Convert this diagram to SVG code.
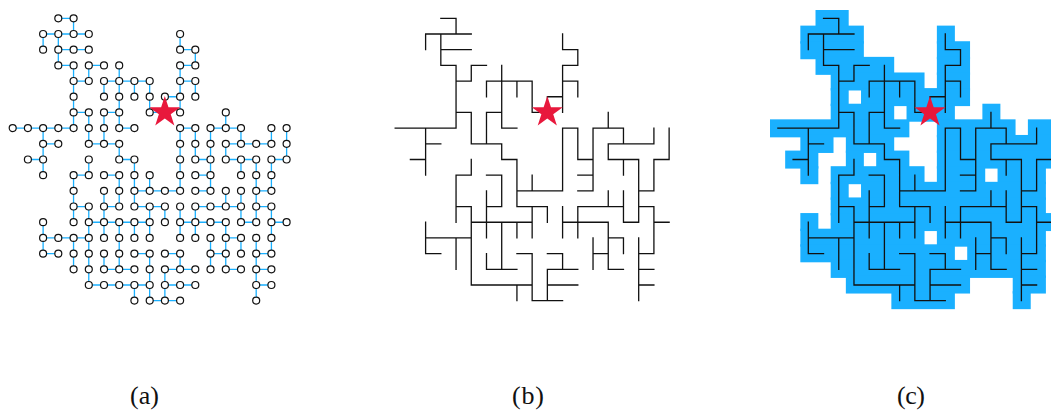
<svg xmlns="http://www.w3.org/2000/svg" width="1051" height="410" viewBox="0 0 1051 410">
<style>
circle{r:3.5px;fill:#fff;stroke:#111;stroke-width:1.2}
.t{fill:none;stroke-width:1.3;stroke-linecap:square;vector-effect:non-scaling-stroke}
.s{fill:#e8183c}
#cells rect{height:1.1524px;fill:#1ab0ff}
text{font-family:"Liberation Serif",serif;font-size:26px;fill:#111;text-anchor:middle}
</style>
<defs>
<path id="tree" class="t" transform="scale(15.22 15.685)" d="M3 0H4M2 1H5M3 2H5M11 2H12M3 3H4M5 3H6M11 3H12M4 4H5M6 4H9M11 4H12M10 5H11M4 6H5M6 6H7M9 6H10M0 7H4M7 7H8M11 7H12M13 7H15M2 8H3M5 8H7M14 8H17M1 9H2M7 9H8M12 9H13M14 9H16M17 9H18M4 10H5M6 10H7M12 10H13M8 11H11M12 11H13M16 11H17M4 12H5M6 12H7M8 12H10M12 12H15M16 12H17M5 13H9M11 13H14M15 13H16M17 13H18M2 14H5M14 14H15M2 15H3M8 15H9M10 15H11M13 15H14M16 15H17M6 16H8M10 16H12M14 16H15M16 16H17M5 17H9M10 17H12M16 17H17M9 18H11M2 1V2M2 7V10M2 13V15M3 1V3M4 0V1M4 3V7M4 10V13M4 14V16M5 3V4M5 6V8M5 9V10M5 12V17M6 4V5M6 6V8M6 11V14M6 15V16M7 3V7M7 8V9M7 10V12M7 13V16M8 4V5M8 9V12M8 13V14M8 17V18M9 4V6M9 10V11M9 12V14M9 15V18M10 5V6M10 12V13M10 16V18M11 1V2M11 3V6M11 7V11M11 12V14M11 15V16M12 2V3M12 4V5M12 7V9M12 12V14M13 7V11M13 14V16M14 6V7M14 8V9M14 11V12M14 13V16M15 7V8M15 9V10M15 11V13M15 14V15M16 9V13M16 14V18M17 7V8M17 9V11M17 12V15M18 7V9"/>
<polygon id="star" class="s" points="0,-16.3 3.66,-5.04 15.5,-5.04 5.93,1.92 9.58,13.19 0,6.23 -9.58,13.19 -5.93,1.92 -15.5,-5.04 -3.66,-5.04"/>
</defs>
<g id="cells" transform="translate(770 10) scale(15.17 15.62)">
<rect x="3" y="0" width="2.187"/>
<rect x="2" y="1" width="4.187"/><rect x="11" y="1" width="1.187"/>
<rect x="2" y="2" width="4.187"/><rect x="11" y="2" width="2.187"/>
<rect x="3" y="3" width="5.187"/><rect x="11" y="3" width="2.187"/>
<rect x="4" y="4" width="6.187"/><rect x="11" y="4" width="2.187"/>
<rect x="4" y="5" width="1.187"/><rect x="6" y="5" width="7.187"/>
<rect x="4" y="6" width="4.187"/><rect x="9" y="6" width="3.187"/><rect x="14" y="6" width="1.187"/>
<rect x="0" y="7" width="9.187"/><rect x="11" y="7" width="5.187"/><rect x="17" y="7" width="2.187"/>
<rect x="2" y="8" width="2.187"/><rect x="5" y="8" width="3.187"/><rect x="11" y="8" width="8.187"/>
<rect x="1" y="9" width="2.187"/><rect x="5" y="9" width="1.187"/><rect x="7" y="9" width="2.187"/><rect x="11" y="9" width="8.187"/>
<rect x="2" y="10" width="1.187"/><rect x="4" y="10" width="6.187"/><rect x="11" y="10" width="3.187"/><rect x="15" y="10" width="3.187"/>
<rect x="4" y="11" width="1.187"/><rect x="6" y="11" width="12.187"/>
<rect x="4" y="12" width="14.187"/>
<rect x="2" y="13" width="1.187"/><rect x="4" y="13" width="15.187"/>
<rect x="2" y="14" width="8.187"/><rect x="11" y="14" width="7.187"/>
<rect x="2" y="15" width="10.187"/><rect x="13" y="15" width="5.187"/>
<rect x="4" y="16" width="14.187"/>
<rect x="5" y="17" width="8.187"/><rect x="16" y="17" width="2.187"/>
<rect x="8" y="18" width="4.187"/><rect x="16" y="18" width="1.187"/>
</g>
<g id="connectors">
<use href="#tree" transform="translate(12.67 18.33)" stroke="#1ab0ff"/>
<use href="#tree" transform="translate(395.17 18.33)" stroke="#111"/>
<use href="#tree" transform="translate(777.87 18.33)" stroke="#111"/>
</g>
<g id="nodes">
<g id="n3-0"><circle cx="58.3" cy="18.3"/></g><g id="n4-0"><circle cx="73.6" cy="18.3"/></g>
<g id="n2-1"><circle cx="43.1" cy="34"/></g><g id="n3-1"><circle cx="58.3" cy="34"/></g><g id="n4-1"><circle cx="73.6" cy="34"/></g><g id="n5-1"><circle cx="88.8" cy="34"/></g><g id="n11-1"><circle cx="180.1" cy="34"/></g>
<g id="n2-2"><circle cx="43.1" cy="49.7"/></g><g id="n3-2"><circle cx="58.3" cy="49.7"/></g><g id="n4-2"><circle cx="73.6" cy="49.7"/></g><g id="n5-2"><circle cx="88.8" cy="49.7"/></g><g id="n11-2"><circle cx="180.1" cy="49.7"/></g><g id="n12-2"><circle cx="195.3" cy="49.7"/></g>
<g id="n3-3"><circle cx="58.3" cy="65.4"/></g><g id="n4-3"><circle cx="73.6" cy="65.4"/></g><g id="n5-3"><circle cx="88.8" cy="65.4"/></g><g id="n6-3"><circle cx="104" cy="65.4"/></g><g id="n7-3"><circle cx="119.2" cy="65.4"/></g><g id="n11-3"><circle cx="180.1" cy="65.4"/></g><g id="n12-3"><circle cx="195.3" cy="65.4"/></g>
<g id="n4-4"><circle cx="73.6" cy="81"/></g><g id="n5-4"><circle cx="88.8" cy="81"/></g><g id="n6-4"><circle cx="104" cy="81"/></g><g id="n7-4"><circle cx="119.2" cy="81"/></g><g id="n8-4"><circle cx="134.4" cy="81"/></g><g id="n9-4"><circle cx="149.7" cy="81"/></g><g id="n11-4"><circle cx="180.1" cy="81"/></g><g id="n12-4"><circle cx="195.3" cy="81"/></g>
<g id="n4-5"><circle cx="73.6" cy="96.7"/></g><g id="n6-5"><circle cx="104" cy="96.7"/></g><g id="n7-5"><circle cx="119.2" cy="96.7"/></g><g id="n8-5"><circle cx="134.4" cy="96.7"/></g><g id="n9-5"><circle cx="149.7" cy="96.7"/></g><g id="n10-5"><circle cx="164.9" cy="96.7"/></g><g id="n11-5"><circle cx="180.1" cy="96.7"/></g><g id="n12-5"><circle cx="195.3" cy="96.7"/></g>
<g id="n4-6"><circle cx="73.6" cy="112.4"/></g><g id="n5-6"><circle cx="88.8" cy="112.4"/></g><g id="n6-6"><circle cx="104" cy="112.4"/></g><g id="n7-6"><circle cx="119.2" cy="112.4"/></g><g id="n9-6"><circle cx="149.7" cy="112.4"/></g><g id="n11-6"><circle cx="180.1" cy="112.4"/></g><g id="n14-6"><circle cx="225.8" cy="112.4"/></g>
<g id="n0-7"><circle cx="12.7" cy="128.1"/></g><g id="n1-7"><circle cx="27.9" cy="128.1"/></g><g id="n2-7"><circle cx="43.1" cy="128.1"/></g><g id="n3-7"><circle cx="58.3" cy="128.1"/></g><g id="n4-7"><circle cx="73.6" cy="128.1"/></g><g id="n5-7"><circle cx="88.8" cy="128.1"/></g><g id="n6-7"><circle cx="104" cy="128.1"/></g><g id="n7-7"><circle cx="119.2" cy="128.1"/></g><g id="n8-7"><circle cx="134.4" cy="128.1"/></g><g id="n11-7"><circle cx="180.1" cy="128.1"/></g><g id="n12-7"><circle cx="195.3" cy="128.1"/></g><g id="n13-7"><circle cx="210.5" cy="128.1"/></g><g id="n14-7"><circle cx="225.8" cy="128.1"/></g><g id="n15-7"><circle cx="241" cy="128.1"/></g><g id="n17-7"><circle cx="271.4" cy="128.1"/></g><g id="n18-7"><circle cx="286.6" cy="128.1"/></g>
<g id="n2-8"><circle cx="43.1" cy="143.8"/></g><g id="n3-8"><circle cx="58.3" cy="143.8"/></g><g id="n5-8"><circle cx="88.8" cy="143.8"/></g><g id="n6-8"><circle cx="104" cy="143.8"/></g><g id="n7-8"><circle cx="119.2" cy="143.8"/></g><g id="n11-8"><circle cx="180.1" cy="143.8"/></g><g id="n12-8"><circle cx="195.3" cy="143.8"/></g><g id="n13-8"><circle cx="210.5" cy="143.8"/></g><g id="n14-8"><circle cx="225.8" cy="143.8"/></g><g id="n15-8"><circle cx="241" cy="143.8"/></g><g id="n16-8"><circle cx="256.2" cy="143.8"/></g><g id="n17-8"><circle cx="271.4" cy="143.8"/></g><g id="n18-8"><circle cx="286.6" cy="143.8"/></g>
<g id="n1-9"><circle cx="27.9" cy="159.5"/></g><g id="n2-9"><circle cx="43.1" cy="159.5"/></g><g id="n5-9"><circle cx="88.8" cy="159.5"/></g><g id="n7-9"><circle cx="119.2" cy="159.5"/></g><g id="n8-9"><circle cx="134.4" cy="159.5"/></g><g id="n11-9"><circle cx="180.1" cy="159.5"/></g><g id="n12-9"><circle cx="195.3" cy="159.5"/></g><g id="n13-9"><circle cx="210.5" cy="159.5"/></g><g id="n14-9"><circle cx="225.8" cy="159.5"/></g><g id="n15-9"><circle cx="241" cy="159.5"/></g><g id="n16-9"><circle cx="256.2" cy="159.5"/></g><g id="n17-9"><circle cx="271.4" cy="159.5"/></g><g id="n18-9"><circle cx="286.6" cy="159.5"/></g>
<g id="n2-10"><circle cx="43.1" cy="175.2"/></g><g id="n4-10"><circle cx="73.6" cy="175.2"/></g><g id="n5-10"><circle cx="88.8" cy="175.2"/></g><g id="n6-10"><circle cx="104" cy="175.2"/></g><g id="n7-10"><circle cx="119.2" cy="175.2"/></g><g id="n8-10"><circle cx="134.4" cy="175.2"/></g><g id="n9-10"><circle cx="149.7" cy="175.2"/></g><g id="n11-10"><circle cx="180.1" cy="175.2"/></g><g id="n12-10"><circle cx="195.3" cy="175.2"/></g><g id="n13-10"><circle cx="210.5" cy="175.2"/></g><g id="n15-10"><circle cx="241" cy="175.2"/></g><g id="n16-10"><circle cx="256.2" cy="175.2"/></g><g id="n17-10"><circle cx="271.4" cy="175.2"/></g>
<g id="n4-11"><circle cx="73.6" cy="190.8"/></g><g id="n6-11"><circle cx="104" cy="190.8"/></g><g id="n7-11"><circle cx="119.2" cy="190.8"/></g><g id="n8-11"><circle cx="134.4" cy="190.8"/></g><g id="n9-11"><circle cx="149.7" cy="190.8"/></g><g id="n10-11"><circle cx="164.9" cy="190.8"/></g><g id="n11-11"><circle cx="180.1" cy="190.8"/></g><g id="n12-11"><circle cx="195.3" cy="190.8"/></g><g id="n13-11"><circle cx="210.5" cy="190.8"/></g><g id="n14-11"><circle cx="225.8" cy="190.8"/></g><g id="n15-11"><circle cx="241" cy="190.8"/></g><g id="n16-11"><circle cx="256.2" cy="190.8"/></g><g id="n17-11"><circle cx="271.4" cy="190.8"/></g>
<g id="n4-12"><circle cx="73.6" cy="206.5"/></g><g id="n5-12"><circle cx="88.8" cy="206.5"/></g><g id="n6-12"><circle cx="104" cy="206.5"/></g><g id="n7-12"><circle cx="119.2" cy="206.5"/></g><g id="n8-12"><circle cx="134.4" cy="206.5"/></g><g id="n9-12"><circle cx="149.7" cy="206.5"/></g><g id="n10-12"><circle cx="164.9" cy="206.5"/></g><g id="n11-12"><circle cx="180.1" cy="206.5"/></g><g id="n12-12"><circle cx="195.3" cy="206.5"/></g><g id="n13-12"><circle cx="210.5" cy="206.5"/></g><g id="n14-12"><circle cx="225.8" cy="206.5"/></g><g id="n15-12"><circle cx="241" cy="206.5"/></g><g id="n16-12"><circle cx="256.2" cy="206.5"/></g><g id="n17-12"><circle cx="271.4" cy="206.5"/></g>
<g id="n2-13"><circle cx="43.1" cy="222.2"/></g><g id="n4-13"><circle cx="73.6" cy="222.2"/></g><g id="n5-13"><circle cx="88.8" cy="222.2"/></g><g id="n6-13"><circle cx="104" cy="222.2"/></g><g id="n7-13"><circle cx="119.2" cy="222.2"/></g><g id="n8-13"><circle cx="134.4" cy="222.2"/></g><g id="n9-13"><circle cx="149.7" cy="222.2"/></g><g id="n10-13"><circle cx="164.9" cy="222.2"/></g><g id="n11-13"><circle cx="180.1" cy="222.2"/></g><g id="n12-13"><circle cx="195.3" cy="222.2"/></g><g id="n13-13"><circle cx="210.5" cy="222.2"/></g><g id="n14-13"><circle cx="225.8" cy="222.2"/></g><g id="n15-13"><circle cx="241" cy="222.2"/></g><g id="n16-13"><circle cx="256.2" cy="222.2"/></g><g id="n17-13"><circle cx="271.4" cy="222.2"/></g><g id="n18-13"><circle cx="286.6" cy="222.2"/></g>
<g id="n2-14"><circle cx="43.1" cy="237.9"/></g><g id="n3-14"><circle cx="58.3" cy="237.9"/></g><g id="n4-14"><circle cx="73.6" cy="237.9"/></g><g id="n5-14"><circle cx="88.8" cy="237.9"/></g><g id="n6-14"><circle cx="104" cy="237.9"/></g><g id="n7-14"><circle cx="119.2" cy="237.9"/></g><g id="n8-14"><circle cx="134.4" cy="237.9"/></g><g id="n9-14"><circle cx="149.7" cy="237.9"/></g><g id="n11-14"><circle cx="180.1" cy="237.9"/></g><g id="n12-14"><circle cx="195.3" cy="237.9"/></g><g id="n13-14"><circle cx="210.5" cy="237.9"/></g><g id="n14-14"><circle cx="225.8" cy="237.9"/></g><g id="n15-14"><circle cx="241" cy="237.9"/></g><g id="n16-14"><circle cx="256.2" cy="237.9"/></g><g id="n17-14"><circle cx="271.4" cy="237.9"/></g>
<g id="n2-15"><circle cx="43.1" cy="253.6"/></g><g id="n3-15"><circle cx="58.3" cy="253.6"/></g><g id="n4-15"><circle cx="73.6" cy="253.6"/></g><g id="n5-15"><circle cx="88.8" cy="253.6"/></g><g id="n6-15"><circle cx="104" cy="253.6"/></g><g id="n7-15"><circle cx="119.2" cy="253.6"/></g><g id="n8-15"><circle cx="134.4" cy="253.6"/></g><g id="n9-15"><circle cx="149.7" cy="253.6"/></g><g id="n10-15"><circle cx="164.9" cy="253.6"/></g><g id="n11-15"><circle cx="180.1" cy="253.6"/></g><g id="n13-15"><circle cx="210.5" cy="253.6"/></g><g id="n14-15"><circle cx="225.8" cy="253.6"/></g><g id="n15-15"><circle cx="241" cy="253.6"/></g><g id="n16-15"><circle cx="256.2" cy="253.6"/></g><g id="n17-15"><circle cx="271.4" cy="253.6"/></g>
<g id="n4-16"><circle cx="73.6" cy="269.3"/></g><g id="n5-16"><circle cx="88.8" cy="269.3"/></g><g id="n6-16"><circle cx="104" cy="269.3"/></g><g id="n7-16"><circle cx="119.2" cy="269.3"/></g><g id="n8-16"><circle cx="134.4" cy="269.3"/></g><g id="n9-16"><circle cx="149.7" cy="269.3"/></g><g id="n10-16"><circle cx="164.9" cy="269.3"/></g><g id="n11-16"><circle cx="180.1" cy="269.3"/></g><g id="n12-16"><circle cx="195.3" cy="269.3"/></g><g id="n13-16"><circle cx="210.5" cy="269.3"/></g><g id="n14-16"><circle cx="225.8" cy="269.3"/></g><g id="n15-16"><circle cx="241" cy="269.3"/></g><g id="n16-16"><circle cx="256.2" cy="269.3"/></g><g id="n17-16"><circle cx="271.4" cy="269.3"/></g>
<g id="n5-17"><circle cx="88.8" cy="285"/></g><g id="n6-17"><circle cx="104" cy="285"/></g><g id="n7-17"><circle cx="119.2" cy="285"/></g><g id="n8-17"><circle cx="134.4" cy="285"/></g><g id="n9-17"><circle cx="149.7" cy="285"/></g><g id="n10-17"><circle cx="164.9" cy="285"/></g><g id="n11-17"><circle cx="180.1" cy="285"/></g><g id="n12-17"><circle cx="195.3" cy="285"/></g><g id="n16-17"><circle cx="256.2" cy="285"/></g><g id="n17-17"><circle cx="271.4" cy="285"/></g>
<g id="n8-18"><circle cx="134.4" cy="300.6"/></g><g id="n9-18"><circle cx="149.7" cy="300.6"/></g><g id="n10-18"><circle cx="164.9" cy="300.6"/></g><g id="n11-18"><circle cx="180.1" cy="300.6"/></g><g id="n16-18"><circle cx="256.2" cy="300.6"/></g>
</g>
<g id="star-a"><use href="#star" transform="translate(164.8 112.3)"/></g>
<g id="star-b"><use href="#star" transform="translate(547.3 112.3)"/></g>
<g id="star-c"><use href="#star" transform="translate(930 112.3)"/></g>
<g id="labels">
<text x="144.5" y="403.5" textLength="29">(a)</text>
<text x="528" y="403.5" textLength="32">(b)</text>
<text x="911" y="403.5" textLength="28">(c)</text>
</g>
</svg>
